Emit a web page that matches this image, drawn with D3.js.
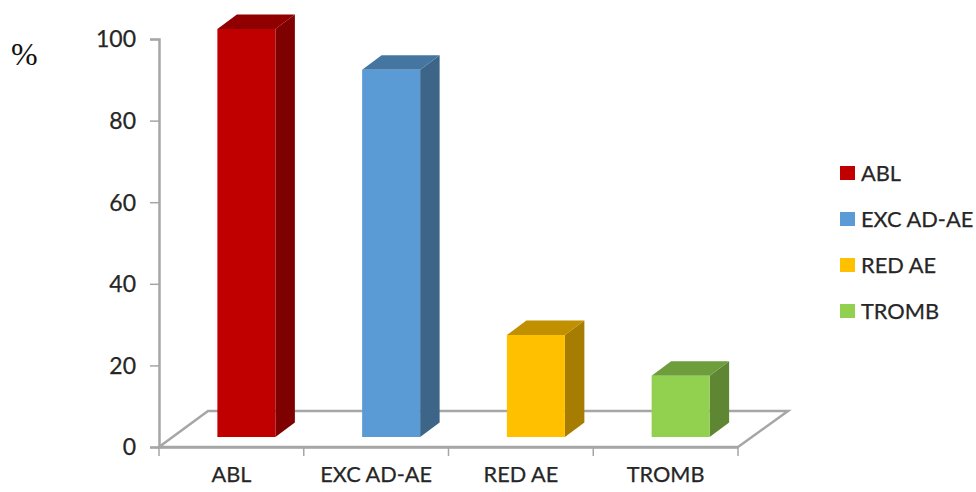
<!DOCTYPE html>
<html>
<head>
<meta charset="utf-8">
<script src="https://cdnjs.cloudflare.com/ajax/libs/d3/7.8.5/d3.min.js"></script>
<style>
  html, body { margin: 0; padding: 0; background: #fff; }
  svg { display: block; }
  text { font-family: Lato, "Open Sans", sans-serif; fill: #262626; stroke: #262626; stroke-width: 0.25px; }
</style>
</head>
<body>
<svg id="chart" width="976" height="492"></svg>
<script>
const categories = ["ABL", "EXC AD-AE", "RED AE", "TROMB"];
const values = [100, 90, 25, 15];
const yTicks = [0, 20, 40, 60, 80, 100];
const frontColors = ["#c00000", "#5b9bd5", "#ffc000", "#92d050"];
const topColors = ["#900000", "#4576a1", "#c09000", "#6e9d3c"];
const sideColors = ["#7f0000", "#3c6588", "#a67d00", "#5f8733"];

const svg = d3.select("#chart");
const axisColor = "#a6a6a6";

const x = d3.scaleBand().domain(categories).range([159, 738]).paddingInner(0).paddingOuter(0);
const y = d3.scaleLinear().domain([0, 100]).range([447, 39]);

// Oblique projection used for the floor and the bar depth
const floorDepth = { dx: 49, dy: -36 };
const barDepth = { dx: 19.5, dy: -14.5 };
const barShift = { dx: 15, dy: -10 };
const barWidth = 58;

// Floor parallelogram
const [x0, x1] = x.range();
svg.append("path")
  .attr("d", `M${x0},${y(0)}L${x0 + floorDepth.dx},${y(0) + floorDepth.dy}L${x1 + floorDepth.dx + 1},${y(0) + floorDepth.dy}L${x1},${y(0)}Z`)
  .attr("fill", "#fff")
  .attr("stroke", axisColor)
  .attr("stroke-width", 2.5)
  .attr("stroke-linejoin", "miter");

// Value axis
const yAxis = svg.append("g").attr("transform", `translate(${x0},0)`)
  .call(d3.axisLeft(y).tickValues(yTicks).tickSize(9).tickPadding(14).tickFormat(d3.format("d")));
yAxis.select(".domain").attr("stroke", axisColor).attr("stroke-width", 2.5);
yAxis.selectAll(".tick line").attr("stroke", axisColor).attr("stroke-width", 1.5);
yAxis.selectAll("text").style("font-size", "23px").attr("dy", "0.34em");

// Category axis
const xAxis = svg.append("g").attr("transform", `translate(0,${y(0)})`)
  .call(d3.axisBottom(x).tickSize(0).tickPadding(20));
xAxis.select(".domain").attr("stroke", axisColor).attr("stroke-width", 2.5);
xAxis.selectAll("text").style("font-size", "21.7px").attr("dy", "0.71em");
svg.append("g").selectAll("line")
  .data(d3.range(categories.length + 1))
  .join("line")
  .attr("x1", i => x0 + i * x.step())
  .attr("x2", i => x0 + i * x.step())
  .attr("y1", y(0))
  .attr("y2", y(0) + 9)
  .attr("stroke", axisColor)
  .attr("stroke-width", 1.5);

// Bars: side face, top face, then front face
const bars = svg.append("g").selectAll("g")
  .data(categories.map((c, i) => ({ c, v: values[i], i })))
  .join("g");

const barLeft = d => x(d.c) + (x.bandwidth() - barWidth) / 2 + barShift.dx;
const barTop = d => y(d.v) + barShift.dy;
const barBase = () => y(0) + barShift.dy;

bars.append("path")
  .attr("fill", d => sideColors[d.i])
  .attr("d", d => {
    const r = barLeft(d) + barWidth;
    return `M${r},${barTop(d)}L${r + barDepth.dx},${barTop(d) + barDepth.dy}L${r + barDepth.dx},${barBase() + barDepth.dy}L${r},${barBase()}Z`;
  });
bars.append("path")
  .attr("fill", d => topColors[d.i])
  .attr("d", d => {
    const l = barLeft(d), t = barTop(d);
    return `M${l},${t}L${l + barDepth.dx},${t + barDepth.dy}L${l + barWidth + barDepth.dx},${t + barDepth.dy}L${l + barWidth},${t}Z`;
  });
bars.append("rect")
  .attr("fill", d => frontColors[d.i])
  .attr("x", barLeft)
  .attr("y", barTop)
  .attr("width", barWidth)
  .attr("height", d => barBase() - barTop(d));

// Legend
const legendY = d3.scalePoint().domain(categories).range([173, 311]);
const legend = svg.append("g").selectAll("g").data(categories).join("g")
  .attr("transform", d => `translate(840,${legendY(d)})`);
legend.append("rect")
  .attr("y", -7).attr("width", 15).attr("height", 14)
  .attr("fill", (d, i) => frontColors[i]);
legend.append("text")
  .attr("x", 21).attr("dy", "0.36em")
  .style("font-size", "21.8px")
  .text(d => d);

// Unit label
svg.append("text")
  .attr("x", 11).attr("y", 65)
  .style("font-family", "'Liberation Serif', serif")
  .style("font-size", "32px")
  .style("fill", "#111")
  .style("stroke", "none")
  .text("%");
</script>
</body>
</html>
